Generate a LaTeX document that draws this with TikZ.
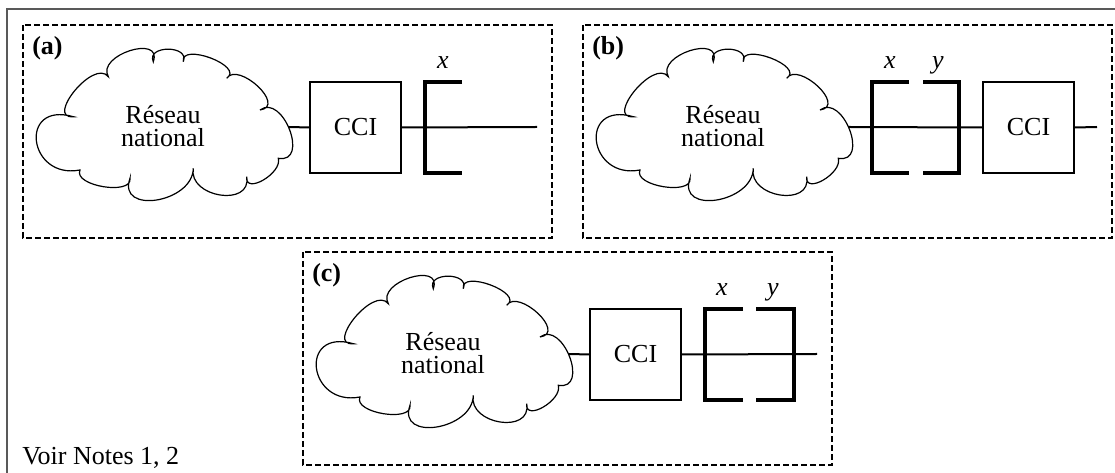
\documentclass[tikz,border=0pt]{standalone}
\usepackage{fontspec}
\setmainfont{Liberation Serif}
\tikzset{
  txt/.style={font=\fontsize{19.5}{19.5}\selectfont, inner sep=0pt},
  bftxt/.style={font=\fontsize{19.5}{19.5}\selectfont\bfseries, inner sep=0pt},
  ittxt/.style={font=\fontsize{19.5}{19.5}\selectfont\itshape, inner sep=0pt},
  panelbox/.style={draw, line width=1.5pt, dash pattern=on 4.5pt off 2.25pt},
  conn/.style={line width=1.5pt},
  brk/.style={line width=3pt, line join=miter},
  ccibox/.style={draw, line width=0.8pt, minimum width=68.25pt, minimum height=68.25pt, inner sep=0pt, txt},
  cloudline/.style={line width=0.9pt, fill=white},
  outerframe/.style={line width=1.5pt, draw=black!65},
  netcloud/.pic={
    \draw[cloudline] (73.3,116.7)
      .. controls (45,119) and (94,58) .. (108.3,76.7)
      .. controls (96,55) and (163,34) .. (153.3,61.7)
      .. controls (146,45) and (190,45) .. (183.3,61.7)
      .. controls (180,42) and (245,66) .. (226.7,78.3)
      .. controls (238,61) and (287,106) .. (260,110)
      .. controls (283,93) and (310,164) .. (278.3,158.3)
      .. controls (282.6,173.2) and (244.6,195.2) .. (246.7,176.7)
      .. controls (252,207.5) and (188,197.5) .. (193.3,168.3)
      .. controls (192.9,202.9) and (117,214.9) .. (130,178.3)
      .. controls (132.7,195.8) and (72.7,185.9) .. (80,170)
      .. controls (28,180) and (18,101) .. (73.3,116.7) -- cycle;
    \node[txt,anchor=base] (-l1) at (163,123.3) {Réseau};
    \node[txt,anchor=base] (-l2) at (163,146.7) {national};
    \coordinate (-e) at (289,127);
  }
}
\begin{document}
\begin{tikzpicture}[x=0.75pt,y=-0.75pt]
\useasboundingbox (0,0) rectangle (1115,473);
\draw[outerframe] (7,475) -- (7,9.5) -- (1117,9.5);

% ---------- panel (a)
\begin{scope}
  \draw[panelbox] (23,25) rectangle (552,238);
  \node[bftxt,anchor=base west] (alab) at (32,55) {(a)};
  \pic (acl) at (0,0) {netcloud};
  \node[ccibox] (acci) at (355.5,127.5) {CCI};
  \coordinate (aend) at (537,127);
  \draw[conn] (acl-e) -- (acci.west);
  \draw[conn] (acci.east) -- (aend);
  \draw[brk] (462,82) -| (425,173) -- (462,173);
  \node[ittxt,anchor=base] (ax) at (443,69) {x};
\end{scope}

% ---------- panel (b)
\begin{scope}[shift={(560,0)}]
  \draw[panelbox] (23,25) rectangle (552,238);
  \node[bftxt,anchor=base west] (blab) at (32,55) {(b)};
  \pic (bcl) at (0,0) {netcloud};
  \node[ccibox] (bcci) at (468.5,127.5) {CCI};
  \coordinate (bend) at (537,127);
  \draw[conn] (bcl-e) -- (bcci.west);
  \draw[conn] (bcci.east) -- (bend);
  \draw[brk] (349,82) -| (312,173) -- (349,173);
  \draw[brk] (363,82) -| (399,173) -- (363,173);
  \node[ittxt,anchor=base] (bx) at (330,69) {x};
  \node[ittxt,anchor=base] (by) at (378,69) {y};
\end{scope}

% ---------- panel (c)
\begin{scope}[shift={(280,227)}]
  \draw[panelbox] (23,25) rectangle (552,238);
  \node[bftxt,anchor=base west] (clab) at (32,55) {(c)};
  \pic (ccl) at (0,0) {netcloud};
  \node[ccibox] (ccci) at (355.5,127.5) {CCI};
  \coordinate (cend) at (537,127);
  \draw[conn] (ccl-e) -- (ccci.west);
  \draw[conn] (ccci.east) -- (cend);
  \draw[brk] (463,82) -| (425,173) -- (463,173);
  \draw[brk] (476,82) -| (514,173) -- (476,173);
  \node[ittxt,anchor=base] (cx) at (442,69) {x};
  \node[ittxt,anchor=base] (cy) at (493,69) {y};
\end{scope}

\node[txt,anchor=base west] (notes) at (22,465) {Voir Notes 1, 2};
\end{tikzpicture}
\end{document}
